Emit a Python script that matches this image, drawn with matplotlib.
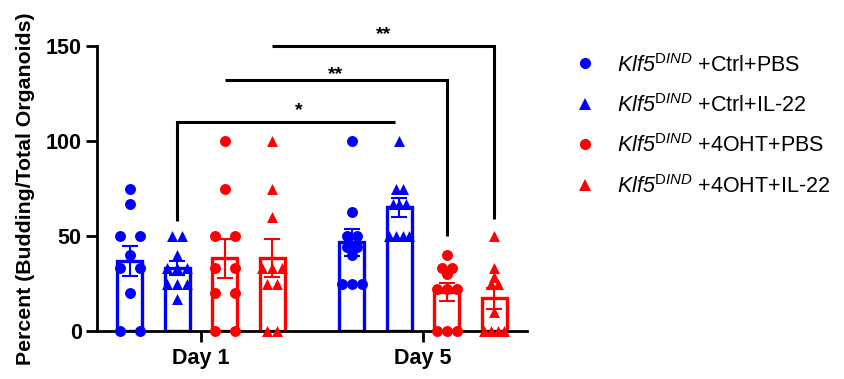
import numpy as np
import matplotlib
matplotlib.use("Agg")
import matplotlib.pyplot as plt
from matplotlib.lines import Line2D

plt.rcParams["font.family"] = ["Liberation Sans", "DejaVu Sans"]
plt.rcParams["mathtext.fontset"] = "custom"
plt.rcParams["mathtext.rm"] = "Liberation Sans"
plt.rcParams["mathtext.it"] = "Liberation Sans:italic"
plt.rcParams["mathtext.sf"] = "Liberation Sans:italic"
plt.rcParams["mathtext.bf"] = "Liberation Sans:bold"

# ---- data: percent budding organoids per well ----
days = ["Day 1", "Day 5"]
conditions = ["+Ctrl+PBS", "+Ctrl+IL-22", "+4OHT+PBS", "+4OHT+IL-22"]
colors = ["#0000FF", "#0000FF", "#FF0000", "#FF0000"]
markers = ["o", "^", "o", "^"]

day1_ctrl_pbs = [75, 66.7, 50, 50, 40, 33.3, 33.3, 20, 0, 0]
day1_ctrl_il22 = [50, 50, 40, 33.3, 33.3, 33.3, 25, 25, 25, 16.7]
day1_4oht_pbs = [100, 75, 50, 50, 33.3, 33.3, 20, 20, 0, 0]
day1_4oht_il22 = [100, 75, 60, 33.3, 33.3, 33.3, 25, 25, 0, 0]

day5_ctrl_pbs = [100, 62.5, 50, 50, 44.4, 44.4, 40, 25, 25, 25]
day5_ctrl_il22 = [100, 75, 75, 66.7, 66.7, 66.7, 50, 50, 50, 50]
day5_4oht_pbs = [40, 33.3, 33.3, 30, 22.2, 22.2, 22.2, 0, 0, 0]
day5_4oht_il22 = [50, 33.3, 28.6, 25, 25, 10, 0, 0, 0, 0]

data = [
    [day1_ctrl_pbs, day1_ctrl_il22, day1_4oht_pbs, day1_4oht_il22],
    [day5_ctrl_pbs, day5_ctrl_il22, day5_4oht_pbs, day5_4oht_il22],
]

# significance: (day, cond) start, (day, cond) end, bar height, drops, label
sig_pairs = [
    ((0, 1), (1, 1), 110, (58, None), "*"),
    ((0, 2), (1, 2), 132, (None, 50), "**"),
    ((0, 3), (1, 3), 150, (None, 59), "**"),
]

# ---- layout ----
W, H = 845, 379
fig = plt.figure(figsize=(W / 100, H / 100), dpi=100)
ax = fig.add_axes([97 / W, 1 - 331 / H, (527 - 97) / W, (331 - 46) / H])

step = 0.214
bar_w = 0.111
offsets = (np.arange(len(conditions)) - 1.5) * step


def spread(vals, span=0.09):
    vals = np.asarray(vals, float)
    uniq, counts = np.unique(vals, return_counts=True)
    m = counts.max()
    gap = span / (m - 1) if m > 1 else 0.0
    xs = np.zeros(len(vals))
    for u, c in zip(uniq, counts):
        idx = np.where(vals == u)[0]
        xs[idx] = (np.arange(c) - (c - 1) / 2) * gap
    return xs


def xpos(d, c):
    return d + offsets[c]


for d in range(len(days)):
    for c in range(len(conditions)):
        vals = np.asarray(data[d][c], float)
        x = xpos(d, c)
        mean = vals.mean()
        sem = vals.std(ddof=1) / np.sqrt(len(vals))
        ax.bar(x, mean, width=bar_w, facecolor="white", edgecolor=colors[c],
               linewidth=2.4, zorder=2)
        ax.scatter(x + spread(vals), vals, s=62, marker=markers[c],
                   color=colors[c], linewidths=0, zorder=3, clip_on=False)
        ax.errorbar(x, mean, yerr=sem, color=colors[c], elinewidth=1.5,
                    capsize=6, capthick=1.5, zorder=4)

# significance brackets
star_y = [113.5, 132.5, 153.5]
star_x = [0.44, None, None]
for k, (a, b, y, (dl, dr), lab) in enumerate(sig_pairs):
    x0, x1 = xpos(*a), xpos(*b)
    if lab == "*":
        x1 -= 0.02
    xs = [x0, x1]
    ys = [y, y]
    if dl is not None:
        xs = [x0] + xs
        ys = [dl] + ys
    if dr is not None:
        xs = xs + [x1]
        ys = ys + [dr]
    ax.plot(xs, ys, color="black", lw=2.2, solid_capstyle="butt",
            solid_joinstyle="miter", clip_on=False, zorder=5)
    tx = star_x[k] if star_x[k] is not None else (x0 + x1) / 2
    ax.text(tx, star_y[k], lab, ha="center", va="baseline",
            fontsize=14, fontweight="bold")

ax.set_xlim(-0.468, 1.468)
ax.set_ylim(0, 150)
ax.set_yticks([0, 50, 100, 150])
ax.set_xticks(range(len(days)))
ax.set_xticklabels(days)
for s in ["top", "right"]:
    ax.spines[s].set_visible(False)
for s in ["left", "bottom"]:
    ax.spines[s].set_linewidth(2.0)
ax.tick_params(axis="both", width=2.0, length=8, labelsize=15.5)
ax.tick_params(axis="y", pad=3)
ax.tick_params(axis="x", pad=4)
for lab in ax.get_xticklabels() + ax.get_yticklabels():
    lab.set_fontweight("bold")
ax.set_ylabel("Percent (Budding/Total Organoids)", fontsize=15.3,
              fontweight="bold", labelpad=8)

# legend
for i, cond in enumerate(conditions):
    ym = 1 - (63 + 40.7 * i) / H
    fig.add_artist(Line2D([585 / W], [ym], marker=markers[i], ls="",
                          color=colors[i], markersize=8,
                          markeredgewidth=0))
    fig.text(617 / W, 1 - (71.5 + 40.4 * i) / H,
             r"$\mathsf{Klf5}^{\mathrm{D}\mathsf{IND}}$ " + cond,
             fontsize=15.5, va="baseline", ha="left")

fig.savefig("out.png", dpi=100)
